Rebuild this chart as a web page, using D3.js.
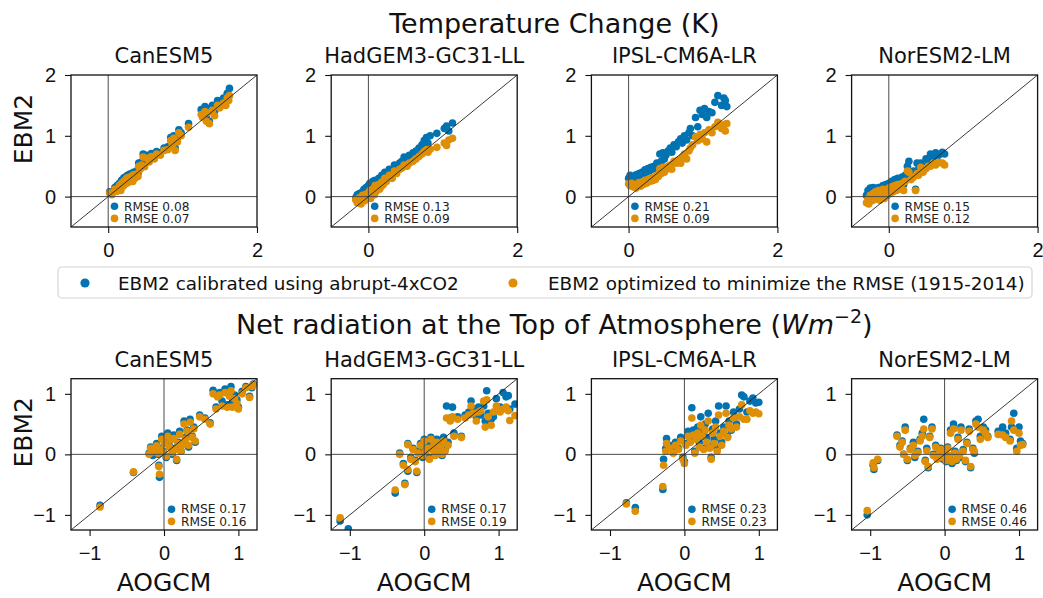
<!DOCTYPE html>
<html>
<head>
<meta charset="utf-8">
<script src="https://cdnjs.cloudflare.com/ajax/libs/d3/7.8.5/d3.min.js"></script>
<style>
  body { margin: 0; background: #fff; }
  svg { display: block; font-family: "DejaVu Sans", sans-serif; }
  .tick text { font-size: 20px; fill: #111; }
  .tick line { stroke: #111; stroke-width: 1.1; }
</style>
</head>
<body>
<svg width="1043" height="598"></svg>
<script>
var models = ["CanESM5", "HadGEM3-GC31-LL", "IPSL-CM6A-LR", "NorESM2-LM"];
var seriesNames = ["EBM2 calibrated using abrupt-4xCO2", "EBM2 optimized to minimize the RMSE (1915-2014)"];

// Temperature change (K): AOGCM value, EBM2 abrupt-4xCO2 calibration, EBM2 optimized
var tasAogcm = [
  [0.02,0.05,0.09,0.12,0.14,0.15,0.17,0.18,0.20,0.21,0.22,0.24,0.25,0.26,0.28,0.29,0.30,0.32,0.33,0.34,0.36,0.38,0.40,0.41,0.43,0.45,0.47,0.49,0.52,0.55,0.58,0.62,0.65,0.70,0.75,0.80,0.84,0.86,0.88,0.90,0.93,0.95,0.98,1.08,1.25,1.27,1.30,1.32,1.34,1.36,1.40,1.43,1.47,1.50,1.55,1.58,1.60,1.63,1.62],
  [-0.17,-0.15,-0.14,-0.12,-0.10,-0.08,-0.06,-0.05,-0.03,-0.02,0.00,0.01,0.02,0.03,0.05,0.06,0.08,0.09,0.10,0.12,0.14,0.15,0.17,0.18,0.20,0.22,0.24,0.26,0.28,0.30,0.32,0.35,0.38,0.42,0.45,0.48,0.52,0.55,0.60,0.64,0.68,0.72,0.75,0.78,0.80,0.83,0.92,1.02,1.05,1.08,1.13],
  [0.00,0.02,0.04,0.06,0.08,0.10,0.12,0.14,0.16,0.18,0.20,0.22,0.24,0.26,0.28,0.30,0.32,0.34,0.36,0.38,0.40,0.42,0.44,0.46,0.48,0.50,0.53,0.56,0.58,0.61,0.64,0.67,0.70,0.72,0.75,0.78,0.81,0.83,0.86,0.90,0.93,0.96,0.99,1.02,1.05,1.08,1.12,1.16,1.20,1.25,1.28,1.30,1.32],
  [-0.30,-0.28,-0.27,-0.25,-0.23,-0.21,-0.20,-0.18,-0.16,-0.14,-0.12,-0.10,-0.08,-0.06,-0.04,-0.02,0.00,0.02,0.04,0.06,0.08,0.10,0.12,0.14,0.16,0.18,0.20,0.22,0.25,0.27,0.30,0.33,0.36,0.38,0.40,0.43,0.46,0.50,0.53,0.56,0.60,0.63,0.67,0.72,0.75]
];
var tasAbrupt = [
  [0.08,0.07,0.15,0.18,0.16,0.22,0.19,0.27,0.24,0.31,0.26,0.33,0.29,0.35,0.30,0.37,0.33,0.38,0.31,0.40,0.36,0.42,0.38,0.55,0.50,0.57,0.70,0.55,0.68,0.62,0.71,0.67,0.74,0.72,0.80,0.82,0.97,0.90,1.00,0.80,0.95,1.10,1.05,1.20,1.43,1.37,1.48,1.31,1.45,1.24,1.50,1.40,1.58,1.53,1.62,1.58,1.70,1.78,1.65],
  [-0.02,0.03,-0.05,0.05,0.00,0.08,0.12,0.02,0.15,0.07,0.18,0.10,0.22,0.05,0.15,0.25,0.12,0.27,0.18,0.22,0.30,0.20,0.25,0.35,0.28,0.40,0.33,0.38,0.45,0.42,0.38,0.52,0.48,0.55,0.58,0.65,0.62,0.68,0.72,0.75,0.80,0.85,0.92,0.97,0.88,1.00,1.04,1.12,1.16,1.08,1.21],
  [0.30,0.35,0.28,0.33,0.30,0.36,0.32,0.38,0.34,0.40,0.37,0.44,0.40,0.46,0.42,0.48,0.45,0.50,0.47,0.55,0.52,0.70,0.58,0.72,0.62,0.68,0.75,0.80,0.73,0.85,0.82,0.90,0.95,0.88,1.00,0.93,1.05,1.12,1.00,1.30,1.15,1.42,1.35,1.45,1.30,1.40,1.38,1.55,1.66,1.50,1.62,1.58,1.48],
  [0.02,0.10,-0.02,0.14,0.05,0.15,0.00,0.12,0.06,0.15,0.02,0.10,0.18,0.05,0.20,0.08,0.22,0.12,0.25,0.14,0.28,0.16,0.30,0.18,0.26,0.32,0.20,0.35,0.50,0.58,0.38,0.42,0.12,0.55,0.45,0.55,0.50,0.62,0.58,0.70,0.65,0.72,0.68,0.73,0.70]
];
var tasOptim = [
  [0.06,0.03,0.12,0.09,0.14,0.18,0.10,0.22,0.17,0.25,0.20,0.29,0.22,0.31,0.24,0.32,0.27,0.34,0.25,0.36,0.30,0.37,0.33,0.50,0.45,0.52,0.65,0.49,0.63,0.57,0.66,0.62,0.70,0.68,0.76,0.77,0.92,0.85,0.96,0.76,0.90,1.05,1.00,1.14,1.35,1.30,1.40,1.24,1.38,1.20,1.42,1.33,1.50,1.46,1.54,1.50,1.62,1.66,1.58],
  [-0.05,-0.10,-0.08,-0.02,-0.12,0.02,-0.04,-0.07,0.04,-0.01,0.06,0.00,0.10,-0.03,0.05,0.12,0.03,0.18,0.08,0.14,0.20,0.12,0.16,0.24,0.20,0.30,0.25,0.29,0.35,0.33,0.30,0.42,0.38,0.45,0.47,0.52,0.50,0.55,0.58,0.62,0.66,0.70,0.74,0.77,0.73,0.78,0.81,0.88,0.84,0.93,0.96],
  [0.21,0.18,0.22,0.16,0.20,0.14,0.19,0.23,0.17,0.24,0.20,0.27,0.22,0.28,0.25,0.30,0.26,0.32,0.28,0.35,0.33,0.46,0.38,0.48,0.40,0.44,0.50,0.52,0.45,0.58,0.55,0.60,0.55,0.65,0.70,0.62,0.75,0.80,0.85,0.98,0.92,1.02,0.95,1.05,0.90,1.10,1.05,1.15,1.22,1.12,1.18,1.08,1.20],
  [-0.10,-0.04,-0.12,0.02,-0.07,0.05,-0.05,0.08,-0.02,0.10,-0.06,0.03,0.12,-0.03,0.10,0.02,0.14,0.05,0.16,0.08,0.18,0.10,0.20,0.12,0.15,0.22,0.10,0.25,0.42,0.40,0.28,0.32,0.10,0.38,0.35,0.48,0.40,0.46,0.50,0.50,0.55,0.52,0.56,0.55,0.52]
];

// Net radiation at TOA (W m-2)
var rtAogcm = [
  [-0.86,-0.41,-0.06,-0.07,-0.20,-0.18,-0.15,-0.12,-0.10,-0.08,-0.05,-0.03,-0.01,0.01,0.03,0.05,0.07,0.09,0.11,0.13,0.15,0.17,0.19,0.21,0.23,0.25,0.27,0.29,0.31,0.33,0.35,0.38,0.40,0.42,0.48,0.55,0.62,0.66,0.70,0.72,0.75,0.78,0.82,0.85,0.88,0.90,0.92,0.95,0.98,1.00,1.05,1.10,1.15,1.18,1.20],
  [-1.13,-1.02,-0.39,-0.26,-0.22,-0.10,-0.33,-0.22,-0.28,-0.18,-0.15,-0.12,-0.08,-0.05,-0.02,0.00,0.02,0.05,0.07,0.09,0.11,0.13,0.15,0.17,0.20,0.22,0.24,0.26,0.28,0.30,0.32,0.35,0.38,0.40,0.45,0.50,0.55,0.60,0.63,0.66,0.70,0.73,0.76,0.80,0.84,0.86,0.90,0.93,0.97,1.02,1.06,1.10,1.13,1.15,1.22,0.82],
  [-0.78,-0.66,-0.29,-0.28,-0.24,-0.25,-0.20,-0.15,-0.12,-0.08,-0.05,-0.02,0.00,0.02,0.05,0.08,0.10,0.12,0.14,0.16,0.18,0.20,0.22,0.24,0.26,0.28,0.30,0.32,0.34,0.36,0.38,0.40,0.42,0.44,0.46,0.48,0.50,0.53,0.56,0.58,0.60,0.63,0.66,0.70,0.74,0.77,0.80,0.84,0.88,0.92,0.96,1.00],
  [-1.04,-0.96,-0.90,-0.95,-0.64,-0.60,-0.57,-0.55,-0.53,-0.50,-0.46,-0.42,-0.40,-0.36,-0.33,-0.30,-0.28,-0.26,-0.24,-0.22,-0.20,-0.17,-0.15,-0.12,-0.10,-0.07,-0.05,-0.02,0.00,0.02,0.04,0.06,0.08,0.10,0.12,0.14,0.16,0.18,0.20,0.22,0.25,0.28,0.30,0.33,0.35,0.38,0.40,0.42,0.45,0.48,0.52,0.55,0.58,0.72,0.78,0.82,0.88,0.90,0.93,0.97,1.00,1.02,1.05]
];
var rtAbrupt = [
  [-0.84,-0.30,-0.38,-0.18,0.02,0.12,-0.02,0.08,0.18,0.00,0.10,0.30,0.05,0.22,-0.05,0.35,0.15,0.28,0.00,0.32,0.10,-0.10,0.20,0.38,0.05,0.18,0.55,0.28,0.40,0.12,0.58,0.30,0.45,0.20,0.65,0.60,0.52,1.06,0.78,0.96,1.02,0.88,1.08,0.82,1.00,1.12,0.86,0.98,0.90,0.78,1.04,1.12,0.96,1.10,1.16],
  [-1.10,-1.23,-0.64,-0.48,-0.28,-0.30,0.02,0.18,-0.15,-0.05,0.10,-0.10,0.05,0.18,-0.05,0.25,0.08,0.15,-0.05,0.28,0.12,0.20,0.02,0.25,0.10,0.18,-0.02,0.28,0.08,0.80,0.20,0.60,0.78,0.35,0.62,0.30,0.65,0.70,0.88,0.75,0.62,0.78,0.65,0.80,1.05,0.68,0.58,0.62,0.92,0.78,1.02,0.95,0.97,0.75,0.83,0.55],
  [-0.80,-0.88,-0.58,-0.08,0.26,0.10,0.15,0.05,0.20,0.10,0.28,-0.05,-0.12,0.18,0.38,0.25,0.77,0.40,0.05,0.30,0.45,0.20,0.62,0.35,0.10,0.50,0.28,0.68,0.15,-0.05,0.42,0.25,0.55,0.10,0.80,0.35,0.20,0.45,0.80,0.30,0.55,0.40,0.70,0.50,0.75,0.98,0.95,0.70,0.88,0.93,0.85,0.86],
  [-1.00,-0.18,-0.10,-0.25,0.32,0.15,0.22,0.00,0.45,-0.10,0.10,0.20,-0.05,0.05,0.25,0.35,0.58,-0.10,0.10,-0.22,0.30,0.45,0.00,0.15,-0.05,0.05,0.10,-0.08,0.02,-0.12,0.12,-0.05,0.40,-0.15,0.50,0.05,-0.10,0.28,-0.05,0.45,0.08,-0.12,0.20,0.42,-0.22,0.10,0.02,0.55,0.58,0.30,0.45,0.40,0.30,0.38,0.45,0.35,0.25,0.45,0.68,0.10,0.45,0.22,0.18]
];
var rtOptim = [
  [-0.87,-0.29,-0.33,-0.20,0.00,0.10,0.04,0.06,0.14,0.02,0.08,0.25,0.03,0.18,-0.03,0.30,0.12,0.24,0.03,0.26,0.08,-0.08,0.18,0.33,0.06,0.16,0.50,0.25,0.38,0.15,0.53,0.28,0.42,0.22,0.62,0.58,0.50,1.00,0.75,0.95,0.98,0.80,1.02,0.78,0.96,1.05,0.78,0.92,0.84,0.75,1.00,1.10,0.94,1.12,1.15],
  [-1.05,-1.30,-0.59,-0.50,-0.25,-0.28,0.00,0.16,-0.18,-0.08,0.08,-0.12,0.02,0.15,-0.02,0.22,0.05,0.10,-0.08,0.25,0.08,0.15,-0.02,0.20,0.05,0.12,0.00,0.22,0.05,0.60,0.15,0.55,0.62,0.30,0.58,0.28,0.60,0.65,0.80,0.68,0.55,0.70,0.72,0.88,0.90,0.62,0.48,0.70,0.80,0.70,0.75,0.78,0.72,0.56,0.64,0.45],
  [-0.82,-0.94,-0.53,-0.18,0.18,0.05,0.10,0.02,0.15,0.08,0.22,-0.08,-0.15,0.15,0.30,0.20,0.60,0.32,0.02,0.25,0.35,0.12,0.48,0.30,0.08,0.40,0.20,0.55,0.10,-0.08,0.35,0.18,0.45,0.05,0.65,0.30,0.15,0.38,0.68,0.28,0.48,0.42,0.60,0.45,0.62,0.82,0.58,0.58,0.72,0.68,0.70,0.67],
  [-0.93,-0.14,-0.08,-0.22,0.30,0.12,0.20,0.00,0.40,-0.08,0.08,0.15,-0.02,0.03,0.22,0.30,0.42,-0.12,0.06,-0.20,0.28,0.42,-0.02,0.12,-0.08,0.02,0.08,-0.05,0.00,-0.10,0.10,-0.02,0.35,-0.12,0.42,0.02,-0.08,0.25,-0.02,0.40,0.05,-0.10,0.18,0.38,-0.20,0.08,0.05,0.50,0.45,0.25,0.40,0.35,0.28,0.33,0.32,0.28,0.22,0.55,0.40,0.05,0.35,0.15,0.16]
];

var tasRmseAbrupt = [0.08, 0.13, 0.21, 0.15];
var tasRmseOptim = [0.07, 0.09, 0.09, 0.12];
var rtRmseAbrupt = [0.17, 0.17, 0.23, 0.46];
var rtRmseOptim = [0.16, 0.19, 0.23, 0.46];

var tasTicksX = [0, 2], tasTicksY = [0, 1, 2];
var rtTicks = [-1, 0, 1];

var svg = d3.select("svg");
var blue = "#0173b2", orange = "#de8f05";
var panelW = 186, panelStep = 260.2, panelLeft = 71;

function drawPanel(row, i, y0, h, domain, xs, yb, yo, ticksX, ticksY, rmseB, rmseO, showXLabel) {
  var x0 = panelLeft + i * panelStep;
  var g = svg.append("g").attr("transform", "translate(" + x0 + "," + y0 + ")");
  var x = d3.scaleLinear().domain(domain).range([0, panelW]);
  var y = d3.scaleLinear().domain(domain).range([h, 0]);
  var clipId = "clip-" + row + "-" + i;

  g.append("clipPath").attr("id", clipId)
    .append("rect").attr("width", panelW).attr("height", h);

  var plot = g.append("g").attr("clip-path", "url(#" + clipId + ")");

  plot.append("g").selectAll("circle")
    .data(xs)
    .enter().append("circle")
    .attr("cx", function(d) { return x(d); })
    .attr("cy", function(d, k) { return y(yb[k]); })
    .attr("r", 3.8)
    .attr("fill", blue);

  plot.append("g").selectAll("circle")
    .data(xs)
    .enter().append("circle")
    .attr("cx", function(d) { return x(d); })
    .attr("cy", function(d, k) { return y(yo[k]); })
    .attr("r", 3.8)
    .attr("fill", orange);

  // zero lines and 1:1 line on top of the points
  plot.append("line")
    .attr("x1", x(0)).attr("x2", x(0)).attr("y1", 0).attr("y2", h)
    .attr("stroke", "#4a4a4a").attr("stroke-width", 1);
  plot.append("line")
    .attr("x1", 0).attr("x2", panelW).attr("y1", y(0)).attr("y2", y(0))
    .attr("stroke", "#4a4a4a").attr("stroke-width", 1);
  plot.append("line")
    .attr("x1", x(domain[0])).attr("y1", y(domain[0]))
    .attr("x2", x(domain[1])).attr("y2", y(domain[1]))
    .attr("stroke", "#222").attr("stroke-width", 0.9);

  var fmt = d3.format("d");
  g.append("g")
    .attr("transform", "translate(0," + h + ")")
    .call(d3.axisBottom(x).tickValues(ticksX).tickSize(6).tickPadding(10).tickFormat(fmt))
    .call(function(a) { a.select(".domain").remove(); a.selectAll("text").attr("font-family", null).attr("font-size", null); });
  g.append("g")
    .call(d3.axisLeft(y).tickValues(ticksY).tickSize(6).tickPadding(9).tickFormat(fmt))
    .call(function(a) { a.select(".domain").remove(); a.selectAll("text").attr("font-family", null).attr("font-size", null); });

  g.append("rect")
    .attr("width", panelW).attr("height", h)
    .attr("fill", "none").attr("stroke", "#111").attr("stroke-width", 1.3);

  g.append("text")
    .attr("x", panelW / 2).attr("y", -12)
    .attr("text-anchor", "middle")
    .attr("font-size", 21).attr("fill", "#111")
    .text(models[i]);

  // small RMSE legend inside the panel
  var lx = row === 0 ? 43.5 : 100.5;
  var rows = [[rmseB, blue, h - 20.8], [rmseO, orange, h - 8.6]];
  rows.forEach(function(r) {
    g.append("circle").attr("cx", lx).attr("cy", r[2]).attr("r", 3.8).attr("fill", r[1]);
    g.append("text")
      .attr("x", lx + 9.5).attr("y", r[2] + 4.3)
      .attr("font-size", 12.2).attr("fill", "#222")
      .text("RMSE " + r[0].toFixed(2));
  });

  if (i === 0) {
    svg.append("text")
      .attr("transform", "translate(31.5," + (y0 + h / 2 - 22) + ") rotate(-90)")
      .attr("text-anchor", "middle")
      .attr("font-size", 25).attr("fill", "#111")
      .text("EBM2");
  }
  if (showXLabel) {
    svg.append("text")
      .attr("x", x0 + panelW / 2).attr("y", 591)
      .attr("text-anchor", "middle")
      .attr("font-size", 25).attr("fill", "#111")
      .text("AOGCM");
  }
}

var centerX = panelLeft + (3 * panelStep + panelW) / 2;

svg.append("text")
  .attr("x", centerX).attr("y", 33)
  .attr("text-anchor", "middle")
  .attr("font-size", 27).attr("fill", "#111")
  .text("Temperature Change (K)");

var t2 = svg.append("text")
  .attr("x", centerX).attr("y", 334)
  .attr("text-anchor", "middle")
  .attr("font-size", 27).attr("fill", "#111");
t2.append("tspan").text("Net radiation at the Top of Atmosphere (");
t2.append("tspan").attr("font-style", "italic").text("Wm");
t2.append("tspan").attr("font-size", 19).attr("dy", -11).text("\u22122");
t2.append("tspan").attr("dy", 11).text(")");

models.forEach(function(m, i) {
  drawPanel(0, i, 75, 152, [-0.5, 2], tasAogcm[i], tasAbrupt[i], tasOptim[i],
    tasTicksX, tasTicksY, tasRmseAbrupt[i], tasRmseOptim[i], false);
  drawPanel(1, i, 378.7, 151.3, [-1.25, 1.25], rtAogcm[i], rtAbrupt[i], rtOptim[i],
    rtTicks, rtTicks, rtRmseAbrupt[i], rtRmseOptim[i], true);
});

// shared legend between the two rows
var leg = svg.append("g");
leg.append("rect")
  .attr("x", 58).attr("y", 267).attr("width", 974).attr("height", 31).attr("rx", 4)
  .attr("fill", "#fff").attr("stroke", "#d4d4d4").attr("stroke-width", 1.2);
var legX = [[85, 118], [513, 548]];
seriesNames.forEach(function(name, k) {
  leg.append("circle").attr("cx", legX[k][0]).attr("cy", 283).attr("r", 4.6)
    .attr("fill", k === 0 ? blue : orange);
  leg.append("text")
    .attr("x", legX[k][1]).attr("y", 289.5)
    .attr("font-size", 18.4).attr("fill", "#111")
    .text(name);
});
</script>
</body>
</html>
